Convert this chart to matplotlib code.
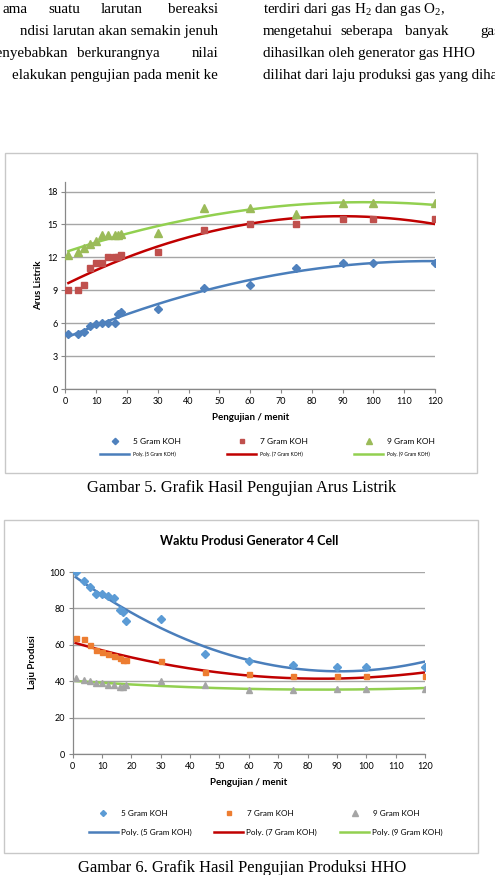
import numpy as np
import matplotlib
matplotlib.use("Agg")
import matplotlib.pyplot as plt
from matplotlib.patches import Rectangle
from matplotlib.lines import Line2D

plt.rcParams['font.family'] = ['Lato', 'DejaVu Sans']
plt.rcParams['mathtext.fontset'] = 'custom'
plt.rcParams['mathtext.rm'] = 'Liberation Serif'
plt.rcParams['mathtext.it'] = 'Liberation Serif:italic'

# ---------------- data ----------------
minutes = [1, 4, 6, 8, 10, 12, 14, 16, 17, 18, 30, 45, 60, 75, 90, 100, 120]

# Chart 1: Arus Listrik
arus_5g = [5.0, 5.0, 5.2, 5.7, 5.9, 6.0, 6.0, 6.0, 6.8, 7.0, 7.3, 9.2, 9.5, 11.0, 11.5, 11.5, 11.5]
arus_7g = [9.0, 9.0, 9.5, 11.0, 11.5, 11.5, 12.0, 12.0, 12.0, 12.2, 12.5, 14.5, 15.0, 15.0, 15.5, 15.5, 15.5]
arus_9g = [12.2, 12.5, 12.9, 13.2, 13.5, 14.0, 14.0, 14.0, 14.0, 14.1, 14.2, 16.5, 16.5, 16.0, 17.0, 17.0, 17.0]

# Chart 2: Laju Produsi
laju_5g = [100, 95, 92, 88, 88, 87, 86, 79, 78, 73, 74, 55, 51, 49, 48, 48, 48]
laju_7g = [64, 63, 60, 57, 56, 55, 54, 53, 52, 52, 51, 45, 44, 43, 43, 43, 43]
laju_9g = [42, 41, 40, 39, 39, 38, 38, 37, 37, 38, 40, 38, 35, 35, 36, 36, 36]

series_labels = ["5 Gram KOH", "7 Gram KOH", "9 Gram KOH"]
trend_labels = ["Poly. (5 Gram KOH)", "Poly. (7 Gram KOH)", "Poly. (9 Gram KOH)"]
x_ticks = list(range(0, 121, 10))
y_ticks_1 = list(range(0, 19, 3))
y_ticks_2 = list(range(0, 101, 20))

W, H = 495, 875
fig = plt.figure(figsize=(W / 100, H / 100), dpi=100)
fig.patch.set_facecolor('white')

def box(l, t, r, b):
    return [l / W, 1 - b / H, (r - l) / W, (b - t) / H]

ov = fig.add_axes([0, 0, 1, 1], zorder=-1)
ov.set_xlim(0, W)
ov.set_ylim(H, 0)
ov.axis('off')

serif = 'Liberation Serif'
pfs = 10.8

def word(x, y, s, ha='left'):
    ov.text(x, y, s, family=serif, fontsize=pfs, va='baseline', ha=ha)

# ---------------- page text ----------------
word(28, 13, "ama", 'right'); word(48, 13, "suatu"); word(101, 13, "larutan"); word(218, 13, "bereaksi", 'right')
word(218, 35, "ndisi larutan akan semakin jenuh", 'right')
word(68, 57, "menyebabkan", 'right'); word(77, 57, "berkurangnya"); word(218, 57, "nilai", 'right')
word(218, 79, "elakukan pengujian pada menit ke", 'right')

word(263, 13, "terdiri dari gas H$_2$ dan gas O$_2$,")
for x, w in [(263, "mengetahui"), (340, "seberapa"), (405, "banyak"), (480, "gas")]:
    word(x, 35, w)
word(263, 57, "dihasilkan oleh generator gas HHO")
word(263, 79, "dilihat dari laju produksi gas yang dihasilkan")

# chart borders
ov.add_patch(Rectangle((5, 153), 472, 320, fill=False, ec='#C8C8C8', lw=1))
ov.add_patch(Rectangle((4, 520), 474, 333, fill=False, ec='#C8C8C8', lw=1))

ov.text(242, 492, "Gambar 5. Grafik Hasil Pengujian Arus Listrik", family=serif, fontsize=11.9, ha='center', va='baseline')
ov.text(242, 872, "Gambar 6. Grafik Hasil Pengujian Produksi HHO", family=serif, fontsize=11.9, ha='center', va='baseline')

grid_c = '#A6A6A6'
axis_c = '#888888'
tick_fs = 6.5

def style_axes(ax, yticks, ylim):
    ax.set_xlim(0, 120)
    ax.set_ylim(*ylim)
    ax.set_xticks(x_ticks)
    ax.set_yticks(yticks)
    for s in ['top', 'right']:
        ax.spines[s].set_visible(False)
    for s in ['left', 'bottom']:
        ax.spines[s].set_color(axis_c)
        ax.spines[s].set_linewidth(0.9)
    ax.tick_params(axis='both', direction='out', length=3, width=0.8, color=axis_c,
                   labelsize=tick_fs, pad=2.5)
    ax.yaxis.grid(True, color=grid_c, lw=1.0)
    ax.set_axisbelow(True)
    ax.patch.set_alpha(0)

def trend(ax, x, y, color):
    c = np.polyfit(x, y, 2)
    xs = np.linspace(min(x), max(x), 200)
    ax.plot(xs, np.polyval(c, xs), color=color, lw=1.8, zorder=3)

# ---------------- chart 1 ----------------
L1, T1, R1, B1 = 65.3, 181.7, 435, 389
ax1 = fig.add_axes(box(L1, T1, R1, B1))
style_axes(ax1, y_ticks_1, (0, 18.9))
m1 = [('D', '#4F81BD', 3.8, arus_5g), ('s', '#C0504D', 4.2, arus_7g), ('^', '#9BBB59', 5.2, arus_9g)]
l1 = ['#4A7EBB', '#C00000', '#92D050']
for (mk, col, ms, ys), lc in zip(m1, l1):
    ax1.plot(minutes, ys, linestyle='none', marker=mk, color=col, ms=ms, zorder=4)
    trend(ax1, minutes, ys, lc)
ax1.set_ylabel("Arus Listrik", fontsize=7, fontweight='bold')
ax1.yaxis.set_label_coords((43 - L1) / (R1 - L1), (B1 - 285) / (B1 - T1))
ax1.set_xlabel("Pengujian / menit", fontsize=7, fontweight='bold', labelpad=5)

for i, ((mk, col, ms, _), lc) in enumerate(zip(m1, l1)):
    mx = [115, 242, 369][i]
    tx = [133, 260, 387][i]
    ov.add_line(Line2D([mx], [441], marker=mk, color=col, ms=ms * 0.85, linestyle='none'))
    ov.text(tx, 441, series_labels[i], fontsize=6, va='center', ha='left')
    lx = [100, 227, 354][i]
    ov.add_line(Line2D([lx, lx + 29], [454, 454], color=lc, lw=1.8))
    ov.text(tx, 454, trend_labels[i], fontsize=3.5, va='center', ha='left')

# ---------------- chart 2 ----------------
L2, T2, R2, B2 = 72.7, 572, 425, 754.3
ax2 = fig.add_axes(box(L2, T2, R2, B2))
style_axes(ax2, y_ticks_2, (0, 100))
m2 = [('D', '#5B9BD5', 3.8, laju_5g), ('s', '#ED7D31', 3.6, laju_7g), ('^', '#A5A5A5', 4.8, laju_9g)]
l2 = ['#4A7EBB', '#C00000', '#92D050']
for (mk, col, ms, ys), lc in zip(m2, l2):
    ax2.plot(minutes, ys, linestyle='none', marker=mk, color=col, ms=ms, zorder=4)
    trend(ax2, minutes, ys, lc)
ax2.set_ylabel("Laju Produsi", fontsize=7, fontweight='bold')
ax2.yaxis.set_label_coords((37 - L2) / (R2 - L2), (B2 - 662) / (B2 - T2))
ax2.set_xlabel("Pengujian / menit", fontsize=7, fontweight='bold', labelpad=5)
ax2.set_title("Waktu Produsi Generator 4 Cell", fontsize=9, fontweight='bold',
              y=(B2 - 541) / (B2 - T2), va='center', pad=0)

for i, ((mk, col, ms, _), lc) in enumerate(zip(m2, l2)):
    mx = [103, 229, 355][i]
    tx = [121, 247, 373][i]
    ov.add_line(Line2D([mx], [813], marker=mk, color=col, ms=ms * 0.8, linestyle='none'))
    ov.text(tx, 813, series_labels[i], fontsize=5.9, va='center', ha='left')
    lx = [89, 214, 340][i]
    ov.add_line(Line2D([lx, lx + 29], [832, 832], color=lc, lw=1.8))
    ov.text(lx + 32, 832, trend_labels[i], fontsize=5.9, va='center', ha='left')

fig.savefig("out.png", dpi=100)
